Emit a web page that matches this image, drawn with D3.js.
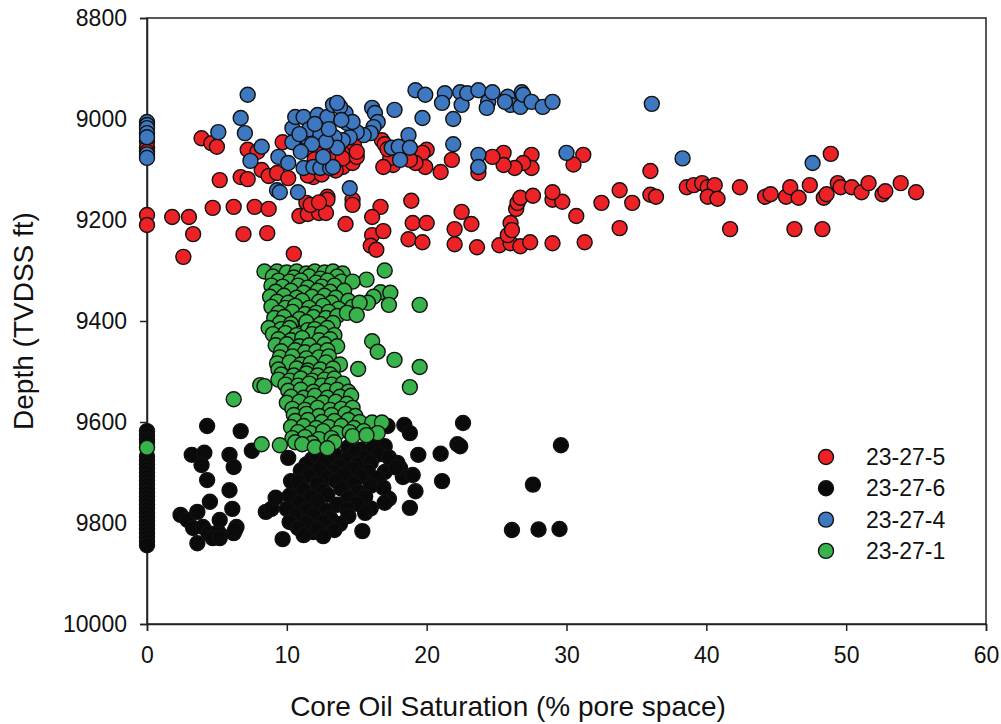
<!DOCTYPE html>
<html><head><meta charset="utf-8">
<script src="https://cdn.jsdelivr.net/npm/d3@7"></script>
<style>
body{margin:0;background:#fff;}
text{font-family:"Liberation Sans",Arial,sans-serif;}
</style></head>
<body>
<svg id="chart" width="1001" height="724"></svg>
<script>
const xTicks = [0,10,20,30,40,50,60];
const yTicks = [8800,9000,9200,9400,9600,9800,10000];
const seriesNames = ["23-27-5","23-27-6","23-27-4","23-27-1"];
const seriesColors = ["#ED2226","#0A0A0A","#3E78C0","#38B24A"];

const well_23_27_5 = [
[0,9045],[0,9057],[0,9065],[0,9190],[0,9210],
[3.9,9038],[4.6,9048],[5.0,9055],[5.2,9121],[6.7,9115],[7.2,9119],[7.2,9061],[7.9,9065],[8.2,9101],[8.7,9113],[9.3,9107],[9.7,9046],[10.1,9117],
[11.4,9057],[11.9,9115],[12.9,9061],[12.9,9154],
[1.8,9194],[3.0,9194],[4.7,9176],[6.2,9174],[7.7,9174],[8.7,9178],[3.3,9228],[2.6,9273],[6.9,9228],[8.6,9226],[10.5,9267],
[11.4,9166],[12.9,9160],[10.9,9192],[11.5,9188],[12.3,9186],[12.8,9186],[14.7,9160],[14.7,9170],[14.2,9208],[16.7,9174],[16.1,9194],[16.1,9230],[16.9,9222],[16.0,9251],[16.4,9259],[18.9,9162],[19.0,9206],[20.0,9206],[18.7,9238],[19.7,9244],
[22.5,9184],[22.0,9218],[23.2,9208],[22.0,9248],[23.6,9254],[25.2,9250],[26.0,9246],[26.7,9252],[27.4,9244],[25.8,9230],[26.0,9206],[26.1,9220],[26.4,9178],[26.5,9166],[26.7,9156],[27.6,9152],[29.0,9246],[31.3,9244],[29.0,9160],[29.7,9164],[29.0,9145],[30.7,9192],[32.5,9166],[33.8,9216],[34.7,9166],[33.8,9141],[36.0,9150],[36.4,9154],[36.0,9103],
[38.6,9135],[39.1,9131],[39.7,9127],[40.1,9135],[40.6,9131],[40.1,9154],[40.8,9158],[41.7,9218],[42.4,9135],[44.2,9154],[44.6,9149],[45.7,9154],[46.0,9135],[46.6,9156],[47.4,9131],[48.4,9156],[48.6,9149],[46.3,9218],[48.3,9218],[48.9,9069],
[49.4,9127],[49.6,9135],[50.4,9135],[51.1,9145],[51.6,9127],[52.6,9149],[52.8,9143],[53.9,9127],[55.0,9145],
[31.2,9071],[30.5,9090],[27.5,9071],[27.5,9097],[26.9,9087],[26.3,9097],[25.5,9067],[25.5,9091],[24.7,9075],[23.7,9097],[23.7,9107],[21.8,9081],[21.0,9105],[20.0,9061],[19.7,9067],[19.9,9095],[19.2,9087],[18.8,9081],[17.6,9091],[17.4,9077],[16.9,9095],[16.8,9042],[14.0,9095],[14.7,9087],[14.5,9067],[14.7,9061],
[10.5,9045],[11.8,9062],[12.4,9070],[13.0,9065],[13.5,9075],[14.0,9078],[15.0,9075],[11.5,9112],[12.5,9110],[13.5,9102],[12.0,9080],[14.8,9050],[15.0,9065],[17.0,9050],[17.2,9060],[11.7,9170],[12.3,9165]
];

const well_23_27_6 = [
[0,9618],[0,9626],[0,9634],[0,9640],[0,9668],[0,9676],[0,9684],[0,9692],[0,9700],[0,9708],[0,9716],[0,9724],[0,9732],[0,9740],[0,9748],[0,9756],[0,9764],[0,9772],[0,9780],[0,9788],[0,9796],[0,9804],[0,9812],[0,9820],[0,9828],[0,9836],[0,9844],
[4.3,9608],[6.7,9618],[7.5,9657],[3.2,9665],[4.1,9661],[3.9,9685],[5.9,9665],[6.2,9689],[4.3,9715],[5.9,9735],[4.5,9758],[6.1,9772],
[2.4,9784],[2.9,9794],[3.3,9810],[4.0,9808],[3.6,9778],[4.4,9820],[5.1,9818],[5.2,9794],[6.4,9808],[6.2,9820],
[3.6,9840],[4.7,9830],[5.2,9830],[6.3,9814],[9.7,9832],[11.4,9814],[11.9,9818],[8.5,9778],[8.9,9772],[10.1,9671],[10.7,9731],[10.3,9717],[9.2,9750],
[22.6,9602],[18.4,9606],[18.8,9622],[17.2,9608],[22.2,9644],[22.4,9648],[29.6,9646],[21.0,9663],[19.4,9665],[21.1,9717],[27.6,9724],[19.2,9737],[18.8,9770],[17.3,9752],[16.0,9771],[17.0,9699],[18.1,9691],[18.3,9709],[19.0,9705],[17.9,9681],[15.4,9816],[26.1,9814],[28.0,9813],[29.5,9812],
[12.8,9652],[14.4,9650],[15.3,9655],[16.2,9650],[17.0,9648],
[12.3,9662],[13.4,9664],[14.9,9660],[16.6,9664],
[11.8,9674],[12.9,9670],[14.2,9676],[15.5,9672],[17.3,9670],
[11.4,9684],[12.6,9682],[13.8,9688],[15.0,9684],[16.0,9680],
[11.0,9696],[12.3,9694],[13.3,9698],[14.7,9692],[15.8,9698],[17.8,9690],
[11.6,9706],[12.9,9710],[14.1,9704],[15.3,9708],[16.5,9712],
[10.8,9718],[12.2,9722],[13.5,9716],[14.8,9722],[16.0,9726],
[11.2,9734],[12.6,9736],[13.9,9732],[15.1,9738],[16.9,9730],
[10.2,9746],[11.7,9748],[12.9,9744],[14.4,9750],[15.6,9748],
[10.9,9760],[12.2,9758],[13.6,9764],[15.0,9762],[17.0,9760],
[10.0,9772],[11.4,9774],[12.8,9776],[14.3,9772],
[10.6,9786],[11.9,9784],[13.1,9790],[14.4,9786],[15.6,9780],
[10.2,9798],[11.4,9800],[12.6,9798],[13.8,9802],
[10.8,9810],[12.2,9812],[13.4,9814],[11.2,9824],[12.6,9826]
];

const well_23_27_4 = [
[0,9006],[0,9012],[0,9018],[0,9028],[0,9036],[0,9070],[0,9077],
[7.2,8952],[6.7,8998],[5.1,9026],[7.0,9028],[8.2,9055],[7.4,9083],[9.4,9075],[9.3,9141],[9.5,9145],[10.8,9145],
[10.4,9018],[10.4,9046],[10.6,8996],[11.2,8996],[11.4,9036],[12.2,8992],[12.9,8996],[13.3,8972],
[10.1,9087],[11.2,9097],[11.9,9095],[12.4,9097],[13.1,9097],
[19.2,8943],[19.9,8952],[21.3,8949],[21.1,8968],[22.4,8947],[22.5,8972],[22.9,8949],[23.7,8943],[24.4,8966],[24.3,8978],[24.7,8947],[25.8,8956],[26.0,8972],[26.8,8947],[26.7,8976],[26.9,8952],[27.5,8966],[28.3,8976],[29.0,8966],[25.6,8966],
[17.7,8982],[19.7,8998],[21.9,9000],[21.9,9050],
[16.1,8978],[16.3,8988],[16.5,9006],[16.2,9016],[16.0,9028],[15.5,9032],[15.0,9026],[14.5,9036],[14.0,9042],[13.4,9036],[13.6,9057],[13.3,9095],
[14.2,8988],[13.8,8976],[13.6,8968],[14.3,9008],[14.7,9006],
[17.5,9057],[18.0,9055],[18.7,9032],[18.8,9057],[18.1,9081],[14.5,9137],[23.7,9071],[23.7,9095],[30.0,9067],[36.1,8970],[38.3,9078],[47.6,9087],
[11.6,9020],[12.4,9030],[12.8,9045],[11.8,9050],[12.6,9075],[11.0,9065],[13.0,9020],[10.9,9030],[13.9,9002],[12.0,9010]
];

const well_23_27_1 = [
[8.4,9302],[9.3,9302],[10.0,9304],[10.7,9302],[11.4,9306],[12.0,9302],[12.7,9304],[13.3,9302],[14.0,9306],
[9.0,9312],[10.5,9314],[11.6,9312],[12.4,9316],[13.6,9312],
[9.4,9320],[10.2,9322],[11.0,9320],[12.1,9324],[12.9,9320],[13.9,9322],[15.7,9318],[14.7,9322],
[8.9,9330],[9.7,9332],[10.8,9330],[11.5,9334],[12.5,9332],[13.4,9330],
[9.2,9342],[10.3,9340],[11.2,9344],[12.2,9340],[13.1,9342],[14.1,9340],
[8.8,9352],[9.8,9350],[10.7,9354],[11.8,9352],[12.7,9350],[13.5,9354],
[9.3,9362],[10.1,9364],[11.1,9360],[12.3,9362],[13.2,9364],[14.4,9360],
[8.9,9372],[9.9,9374],[10.6,9370],[11.6,9374],[12.6,9370],[13.7,9376],
[9.4,9384],[10.4,9382],[11.3,9386],[12.1,9384],[13.0,9382],
[9.1,9394],[9.8,9392],[10.9,9396],[11.9,9392],[12.8,9394],[13.6,9390],[14.7,9372],
[9.5,9404],[10.3,9406],[11.4,9402],[12.4,9406],[13.3,9404],[14.3,9384],
[8.7,9414],[9.6,9416],[10.2,9414],[11.5,9418],[12.0,9416],[12.9,9414],
[9.0,9426],[9.9,9424],[10.7,9428],[11.8,9426],[12.5,9424],[13.4,9428],
[9.4,9436],[10.3,9438],[11.1,9434],[12.3,9438],[13.1,9436],
[9.2,9448],[10.0,9446],[10.9,9450],[11.6,9448],[12.7,9446],[13.6,9450],
[9.6,9460],[10.6,9458],[11.3,9462],[12.1,9460],[12.9,9458],
[9.5,9472],[10.4,9470],[11.4,9474],[12.3,9472],[13.0,9470],
[9.3,9484],[10.2,9482],[11.0,9486],[11.7,9484],[12.8,9482],[13.8,9486],
[9.4,9496],[10.7,9494],[11.5,9498],[12.4,9496],[13.3,9494],
[9.6,9506],[10.5,9508],[11.4,9504],[12.2,9508],[13.1,9506],
[9.4,9516],[10.2,9518],[11.0,9514],[11.8,9518],[12.7,9516],[13.4,9514],
[9.9,9526],[10.8,9528],[11.6,9524],[12.5,9528],[13.2,9526],[14.0,9524],
[10.1,9538],[11.0,9536],[11.9,9540],[12.8,9538],[13.6,9536],[14.4,9540],
[10.3,9550],[11.2,9552],[12.0,9548],[12.9,9552],[13.8,9550],[14.6,9548],
[10.0,9562],[10.9,9560],[11.7,9564],[12.6,9562],[13.5,9560],[14.3,9564],
[10.4,9574],[11.3,9576],[12.2,9572],[13.1,9576],[13.9,9574],[14.7,9572],
[10.5,9586],[11.4,9584],[12.3,9588],[13.2,9586],[14.2,9584],[14.9,9588],
[10.6,9598],[11.5,9596],[12.5,9600],[13.4,9598],[14.4,9596],[15.2,9600],[16.1,9601],[16.8,9601],
[10.3,9610],[11.2,9608],[12.1,9612],[13.0,9610],[13.9,9608],[14.8,9612],
[10.8,9620],[11.7,9622],[12.6,9618],[13.6,9622],[14.5,9620],[15.5,9618],[16.5,9622],
[10.4,9632],[11.3,9630],[12.3,9634],[13.2,9632],[14.7,9628],[15.7,9626],
[10.6,9640],[11.8,9642],[13.4,9640],
[9.5,9646],[11.1,9644],[12.0,9650],[12.9,9652],
[0,9651],[8.2,9644],[6.2,9555],[8.1,9527],[8.4,9529],[18.8,9531],[19.5,9491],[15.1,9495],[16.1,9440],[16.5,9461],[17.7,9477],[19.5,9368],[17.0,9300],[16.7,9343],[17.4,9344],[17.3,9368],[16.2,9352],[15.8,9364],[15.2,9364],[15.0,9388]
];

const seriesData = [well_23_27_5, well_23_27_6, well_23_27_4, well_23_27_1];

const svg = d3.select("#chart");
const L = 147, R = 986, T = 18, B = 624;
const x = d3.scaleLinear().domain([0,60]).range([L,R]);
const y = d3.scaleLinear().domain([8800,10000]).range([T,B]);

svg.append("rect").attr("x",L).attr("y",T).attr("width",R-L).attr("height",B-T)
  .attr("fill","none").attr("stroke","#222").attr("stroke-width",1.5);

const xAxis = svg.append("g").attr("transform",`translate(0,${B})`)
  .call(d3.axisBottom(x).tickValues(xTicks).tickSize(7).tickPadding(16).tickFormat(d3.format("d")));
const yAxis = svg.append("g").attr("transform",`translate(${L},0)`)
  .call(d3.axisLeft(y).tickValues(yTicks).tickSize(7).tickPadding(13).tickFormat(d3.format("d")));
[xAxis,yAxis].forEach(a=>{
  a.select(".domain").attr("stroke","#222").attr("stroke-width",1.5);
  a.selectAll(".tick line").attr("stroke","#222").attr("stroke-width",1.5);
  a.selectAll(".tick text").attr("fill","#111").style("font-size","23px").style("font-family","'Liberation Sans',Arial,sans-serif");
});

const r = 7.5;
seriesData.forEach((data,i)=>{
  svg.append("g").selectAll("circle").data(data).join("circle")
    .attr("cx",d=>x(d[0])).attr("cy",d=>y(d[1])).attr("r",r)
    .attr("fill",seriesColors[i]).attr("stroke","#111").attr("stroke-width",1.4);
});

svg.append("text").attr("x",508).attr("y",716).attr("text-anchor","middle")
  .style("font-size","28px").attr("fill","#111").text("Core Oil Saturation (% pore space)");
svg.append("text").attr("transform",`translate(33,321) rotate(-90)`).attr("text-anchor","middle")
  .style("font-size","28px").attr("fill","#111").text("Depth (TVDSS ft)");

const leg = svg.append("g");
seriesNames.forEach((n,i)=>{
  const cy = 457 + i*31.3;
  leg.append("circle").attr("cx",826).attr("cy",cy).attr("r",r)
    .attr("fill",seriesColors[i]).attr("stroke","#111").attr("stroke-width",1.4);
  leg.append("text").attr("x",866).attr("y",cy).attr("dy","0.35em")
    .style("font-size","23px").attr("fill","#111").text(n);
});
</script>
</body></html>
